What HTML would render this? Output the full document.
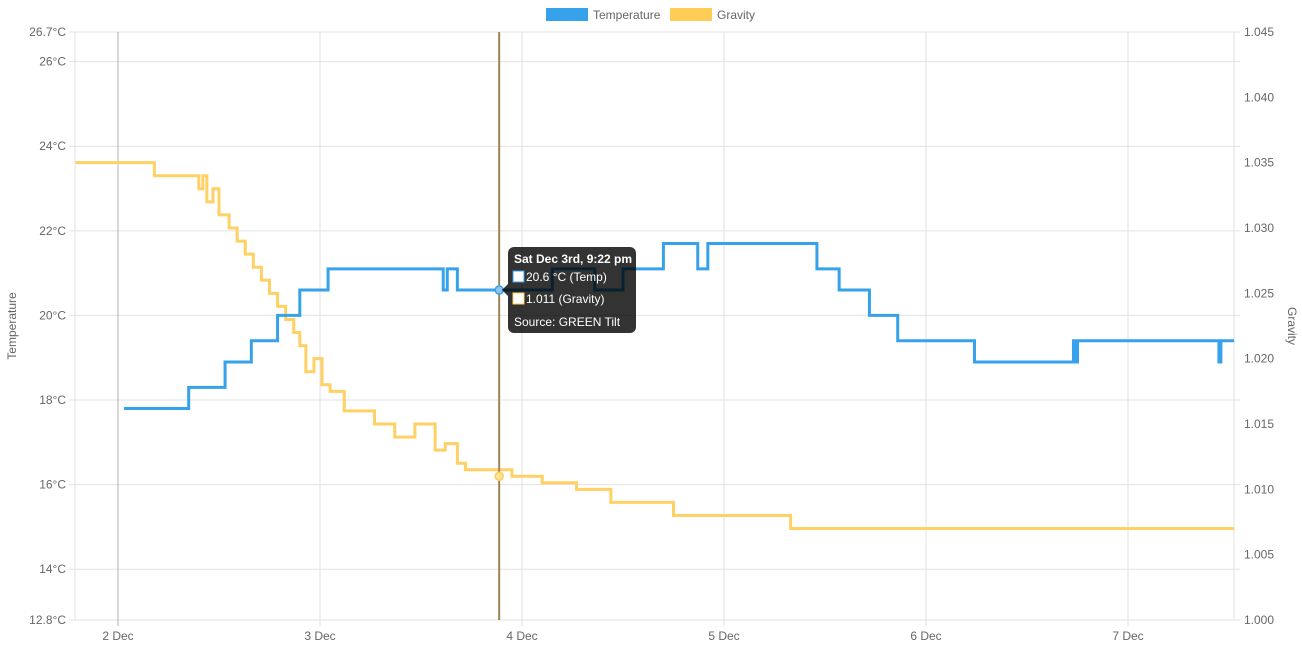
<!DOCTYPE html>
<html><head><meta charset="utf-8"><style>
body{margin:0;background:#fff;font-family:"Liberation Sans",sans-serif}
svg text{font-family:"Liberation Sans",sans-serif}
</style></head><body>
<svg id="c" width="1302" height="651"></svg>
<script>
// data (time in days of December, stepped series)
const dayTicks=[2,3,4,5,6,7];
const tempTicks=[12.8,14,16,18,20,22,24,26,26.7];
const gravTicks=[1.000,1.005,1.010,1.015,1.020,1.025,1.030,1.035,1.040,1.045];
const tempTimes=[2.03,2.35,2.53,2.66,2.79,2.90,3.04,3.61,3.63,3.68,4.15,4.36,4.50,4.70,4.87,4.92,5.46,5.57,5.72,5.86,6.24,6.73,6.74,6.75,7.45,7.46,7.48,7.525];
const tempVals=[17.8,18.3,18.9,19.4,20.0,20.6,21.1,20.6,21.1,20.6,21.1,20.6,21.1,21.7,21.1,21.7,21.1,20.6,20.0,19.4,18.9,19.4,18.9,19.4,18.9,19.4,19.4,19.4];
const gravTimes=[1.79,2.18,2.40,2.42,2.44,2.47,2.50,2.55,2.59,2.63,2.67,2.71,2.75,2.79,2.83,2.87,2.90,2.93,2.97,3.01,3.05,3.12,3.27,3.37,3.47,3.57,3.62,3.68,3.72,3.95,4.10,4.27,4.44,4.75,5.10,5.33,7.525];
const gravVals=[1.035,1.034,1.033,1.034,1.032,1.033,1.031,1.030,1.029,1.028,1.027,1.026,1.025,1.024,1.023,1.022,1.021,1.019,1.020,1.018,1.0175,1.016,1.015,1.014,1.015,1.013,1.0135,1.012,1.0115,1.011,1.0105,1.010,1.009,1.008,1.008,1.007,1.007];
const hoverDay=3.887, hoverTemp=20.6, hoverGrav=1.011;

const NS="http://www.w3.org/2000/svg",svg=document.getElementById('c');
const L=75,R=1234,T=32,B=620;
const xs=d=>118+(d-2)*202;
const yt=v=>B-(v-12.8)/(26.7-12.8)*(B-T);
const yg=v=>B-(v-1)/0.045*(B-T);
function mk(tag,attrs,name,txt){const e=document.createElementNS(NS,tag);for(const k in attrs)e.setAttribute(k,attrs[k]);


if(txt!==undefined)e.textContent=txt;svg.appendChild(e);return e;}
// grid
tempTicks.forEach(v=>{mk('line',{x1:L-6,x2:R+6,y1:yt(v),y2:yt(v),stroke:'#e2e2e2'},'grid-line-y');
mk('text',{x:L-9,y:yt(v)+4,'text-anchor':'end','font-size':12,fill:'#666'},'y-tick-left',v+'°C');});
dayTicks.forEach(d=>{mk('line',{x1:xs(d),x2:xs(d),y1:T,y2:B+6,stroke:d==2?'#b0b0b0':'#e2e2e2'},'grid-line-x');
mk('text',{x:xs(d),y:640,'text-anchor':'middle','font-size':12,fill:'#666'},'x-tick',d+' Dec');});
mk('line',{x1:L,x2:L,y1:T,y2:B,stroke:'#e2e2e2'},'left-axis-line');
mk('line',{x1:R,x2:R,y1:T,y2:B,stroke:'#e2e2e2'},'right-axis-line');
gravTicks.forEach(v=>mk('text',{x:R+10,y:yg(v)+4,'font-size':12,fill:'#666'},'y-tick-right',v.toFixed(3)));
mk('text',{x:16,y:326,transform:'rotate(-90 16 326)','text-anchor':'middle','font-size':12,fill:'#666'},'y-axis-title-left','Temperature');
mk('text',{x:1288,y:326,transform:'rotate(90 1288 326)','text-anchor':'middle','font-size':12,fill:'#666'},'y-axis-title-right','Gravity');
function step(t,v,f){let p='';for(let i=0;i<t.length;i++){const x=xs(t[i]),y=f(v[i]);if(i==0)p+='M'+x+','+y;else p+='L'+x+','+f(v[i-1])+'L'+x+','+y;}return p;}
mk('path',{d:step(gravTimes,gravVals,yg),fill:'none',stroke:'#ffd064','stroke-width':3},'gravity-line');
mk('path',{d:step(tempTimes,tempVals,yt),fill:'none',stroke:'#36a2eb','stroke-width':3},'temperature-line');
// hover
const hx=xs(hoverDay);
mk('line',{x1:hx,x2:hx,y1:T,y2:B,stroke:'#a0825a','stroke-width':2},'hover-line');
mk('circle',{cx:hx,cy:yt(hoverTemp),r:4,fill:'#8cc6f0',stroke:'#36a2eb','stroke-width':1.5},'hover-point-temp');
mk('circle',{cx:hx,cy:yg(hoverGrav),r:4,fill:'#ffe29a',stroke:'#ffcd56','stroke-width':1.5},'hover-point-gravity');
// tooltip
const tx=508,ty=247;
mk('rect',{x:tx,y:ty,width:128,height:86,rx:6,fill:'rgba(0,0,0,0.8)'},'tooltip-box');
mk('path',{d:`M${tx} ${yt(hoverTemp)-6}L${tx-6} ${yt(hoverTemp)}L${tx} ${yt(hoverTemp)+6}Z`,fill:'rgba(0,0,0,0.8)'},'tooltip-caret');
mk('text',{x:tx+6,y:ty+16,'font-size':12,'font-weight':'bold',fill:'#fff'},'tooltip-title','Sat Dec 3rd, 9:22 pm');
mk('rect',{x:tx+5,y:ty+24,width:11,height:11,fill:'#fff',stroke:'#36a2eb'},'tooltip-swatch-temp');
mk('text',{x:tx+18,y:ty+34,'font-size':12,fill:'#fff'},'tooltip-temp','20.6 °C (Temp)');
mk('rect',{x:tx+5,y:ty+46,width:11,height:11,fill:'#fff',stroke:'#ffcd56'},'tooltip-swatch-gravity');
mk('text',{x:tx+18,y:ty+56,'font-size':12,fill:'#fff'},'tooltip-gravity','1.011 (Gravity)');
mk('text',{x:tx+6,y:ty+79,'font-size':12,fill:'#fff'},'tooltip-source','Source: GREEN Tilt');
// legend
mk('rect',{x:546,y:8,width:42,height:13,fill:'#36a2eb'},'legend-swatch-temperature');
mk('text',{x:593,y:19,'font-size':12,fill:'#666'},'legend-label-temperature','Temperature');
mk('rect',{x:670,y:8,width:42,height:13,fill:'#ffcd56'},'legend-swatch-gravity');
mk('text',{x:717,y:19,'font-size':12,fill:'#666'},'legend-label-gravity','Gravity');
</script>
</body></html>
